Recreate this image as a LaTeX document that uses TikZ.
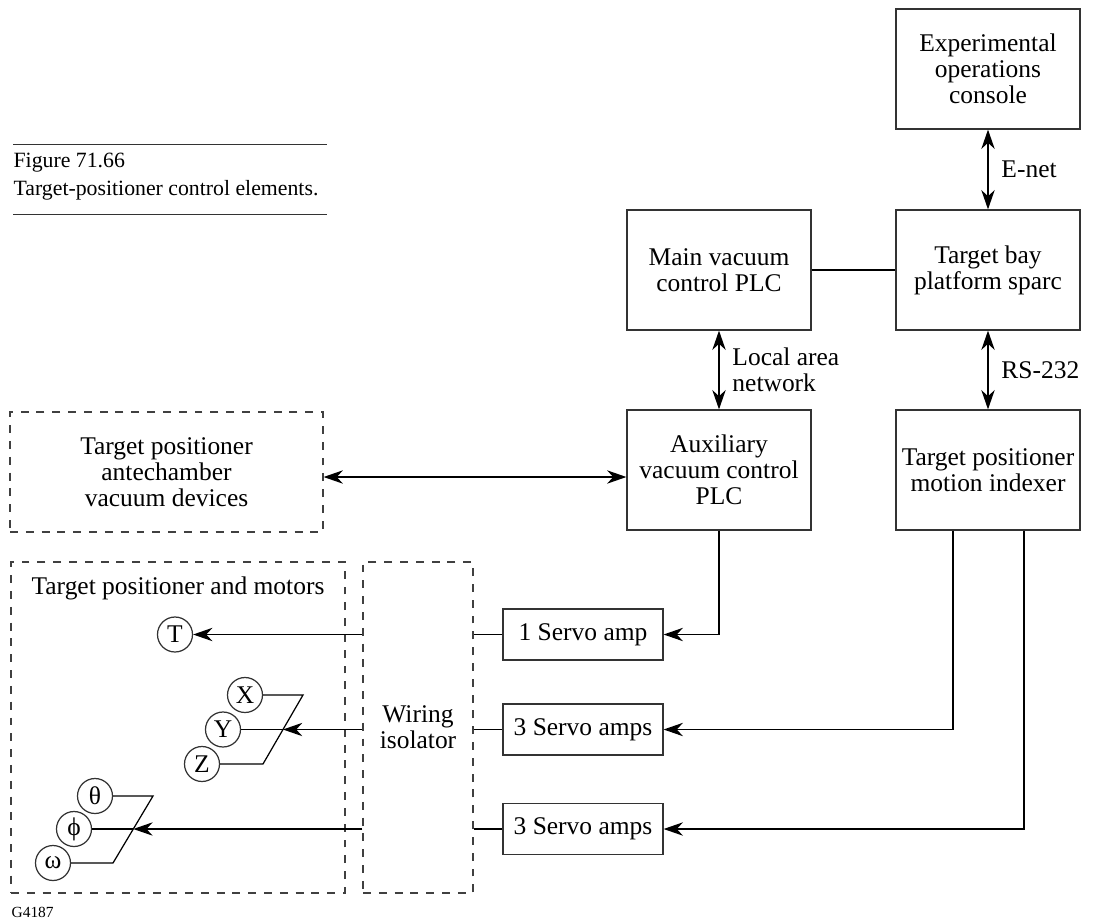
\documentclass[tikz,border=0pt]{standalone}
\usepackage{fontspec}
\setmainfont{Liberation Serif}
\usetikzlibrary{arrows.meta,calc}
\tikzset{
  txt/.style={font=\fontsize{14.5pt}{14.8pt}\selectfont,align=center},
  box/.style={txt,draw=black!80,inner sep=2pt,minimum width=3.68cm,minimum height=2.4cm},
  amp/.style={txt,draw=black!80,inner sep=2pt,minimum width=3.2cm,minimum height=1.02cm},
  dbox/.style={txt,draw=black!75,dash pattern=on 4.5pt off 4.5pt,inner sep=0pt},
  motor/.style={txt,draw=black!80,circle,inner sep=0pt,minimum size=0.7cm},
  lbl/.style={txt,right,align=left,xshift=0.14cm}
}
\begin{document}
\begin{tikzpicture}[x=0.02cm,y=-0.02cm,line width=0.7pt,
  >={Stealth[length=11pt,width=7.6pt,inset=3.5pt]}]
\useasboundingbox (0,0) rectangle (1106,920);
% caption
\draw[line width=0.5pt,black!80](13,144)--(327,144)(13,214)--(327,214);
\node[anchor=west,inner sep=0pt,font=\fontsize{12.4pt}{15pt}\selectfont] (fig) at (13,163) {Figure 71.66};
\node[anchor=west,inner sep=0pt,font=\fontsize{12.4pt}{15pt}\selectfont] (cap) at (13,190) {Target-positioner control elements.};
% control boxes
\node[box] (console) at (988,69) {Experimental\\operations\\console};
\node[box] (bay) at (988,270) {Target bay\\platform sparc};
\node[box] (mainvac) at (719,270) {Main vacuum\\control PLC};
\node[box] (aux) at (719,470) {Auxiliary\\vacuum control\\PLC};
\node[box] (indexer) at (988,470) {Target positioner\\motion indexer};
\node[amp] (amp1) at (583,634.5) {1 Servo amp};
\node[amp] (ampa) at (583,729.5) {3 Servo amps};
\node[amp] (ampb) at (583,829) {3 Servo amps};
% dashed areas
\node[dbox,minimum width=6.26cm,minimum height=2.4cm] (ante) at (166.5,472) {Target positioner\\antechamber\\vacuum devices};
\node[dbox,minimum width=6.68cm,minimum height=6.62cm] (motors) at (178,727.5) {};
\node[dbox,minimum width=2.2cm,minimum height=6.62cm] (isol) at (418,727.5) {Wiring\\isolator};
\node[txt] (motorstitle) at (178,588) {Target positioner and motors};
% motors
\node[motor] (T) at (175,634.5) {T};
\node[motor] (X) at (245,695) {X};
\node[motor] (Y) at (223,729.5) {Y};
\node[motor] (Z) at (202,764) {Z};
\node[motor] (th) at (95,796) {θ};
\node[motor] (ph) at (74,829) {ϕ};
\node[motor] (om) at (53,863) {ω};
\coordinate (xtop) at (303,695);
\coordinate (zbot) at (263,764);
\coordinate (xyz) at (283,729.5);
\coordinate (thtop) at (153,796);
\coordinate (ombot) at (113,863);
\coordinate (tpo) at (133.3,829);
\draw (X)--(xtop)--(zbot)--(Z);
\draw (Y)--(xyz);
\draw (th)--(thtop)--(ombot)--(om);
\draw (ph)--(tpo);
% connectors
\draw[<->] (console)--node[lbl]{E-net}(bay);
\draw (mainvac)--(bay);
\draw[<->] (mainvac)--node[lbl]{Local area\\network}(aux);
\draw[<->] (bay)--node[lbl]{RS-232}(indexer);
\draw[<->] ($(ante.east)+(0,5)$)--($(aux.west)+(0,7)$);
\draw[->] (aux.south)|-(amp1.east);
\draw[->] ([xshift=-0.7cm]indexer.south)|-(ampa.east);
\draw[->] ([xshift=0.72cm]indexer.south)|-(ampb.east);
\foreach \a in {amp1,ampa,ampb}
\draw (\a.west)--(\a.west-|isol.east);
\draw[->] (amp1.west-|isol.west)--(T);
\draw[->] (ampa.west-|isol.west)--(xyz);
\draw[->] (ampb.west-|isol.west)--(tpo);
\node[anchor=west,inner sep=0pt,font=\fontsize{8.8pt}{10pt}\selectfont] (gnum) at (11,912) {G4187};
\end{tikzpicture}
\end{document}
